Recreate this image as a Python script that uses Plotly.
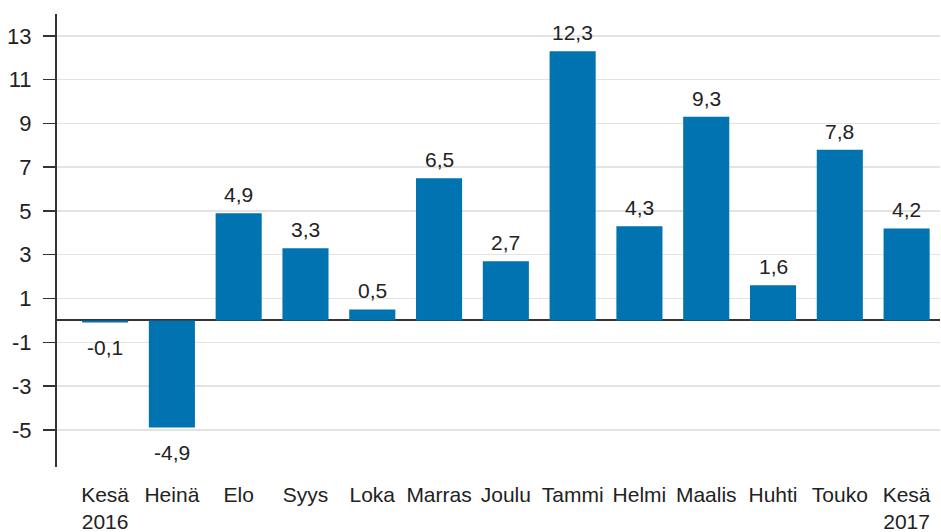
import plotly.graph_objects as go

categories = ["Kesä<br>2016", "Heinä", "Elo", "Syys", "Loka", "Marras", "Joulu",
              "Tammi", "Helmi", "Maalis", "Huhti", "Touko", "Kesä<br>2017"]
values = [-0.1, -4.9, 4.9, 3.3, 0.5, 6.5, 2.7, 12.3, 4.3, 9.3, 1.6, 7.8, 4.2]
labels = [f"{v:.1f}".replace(".", ",") for v in values]
ytick_vals = [-5, -3, -1, 1, 3, 5, 7, 9, 11, 13]

x_idx = list(range(len(categories)))
FONT = "Liberation Sans, Arial"

fig = go.Figure()
fig.add_trace(go.Bar(
    x=x_idx, y=values, width=0.69,
    marker=dict(color="#0073b0", line=dict(width=0)),
    hoverinfo="skip",
))

for xi, v, lab in zip(x_idx, values, labels):
    fig.add_annotation(
        x=xi, y=v, text=lab, showarrow=False,
        yanchor="bottom" if v >= 0 else "top",
        yshift=5 if v >= 0 else -11,
        font=dict(family=FONT, size=21, color="#222"),
    )

fig.update_layout(
    width=941, height=532,
    margin=dict(l=57, r=1, t=14, b=65),
    paper_bgcolor="white", plot_bgcolor="white",
    showlegend=False,
    font=dict(family=FONT, size=21, color="#222"),
    xaxis=dict(
        range=[-0.72, 12.5], automargin=False,
        tickmode="array", tickvals=x_idx, ticktext=categories,
        showgrid=False, showline=False, zeroline=False, ticks="",
        ticklabelstandoff=13,
        tickfont=dict(family=FONT, size=21, color="#222"),
    ),
    yaxis=dict(
        range=[-6.7, 14.0], automargin=False,
        tickmode="array", tickvals=ytick_vals,
        ticktext=[str(v) for v in ytick_vals],
        showgrid=True, gridcolor="#e3e3e3", gridwidth=1.5,
        zeroline=True, zerolinecolor="#333", zerolinewidth=1.8,
        showline=True, linecolor="#333", linewidth=2,
        ticks="outside", ticklen=12, tickcolor="#333", tickwidth=1.5,
        ticklabelstandoff=7,
        tickfont=dict(family=FONT, size=22, color="#222"),
    ),
)

fig.write_html("out.html",
               config={"displayModeBar": False, "staticPlot": True},
               post_script="document.body.style.margin='0';document.body.style.overflow='hidden';")
